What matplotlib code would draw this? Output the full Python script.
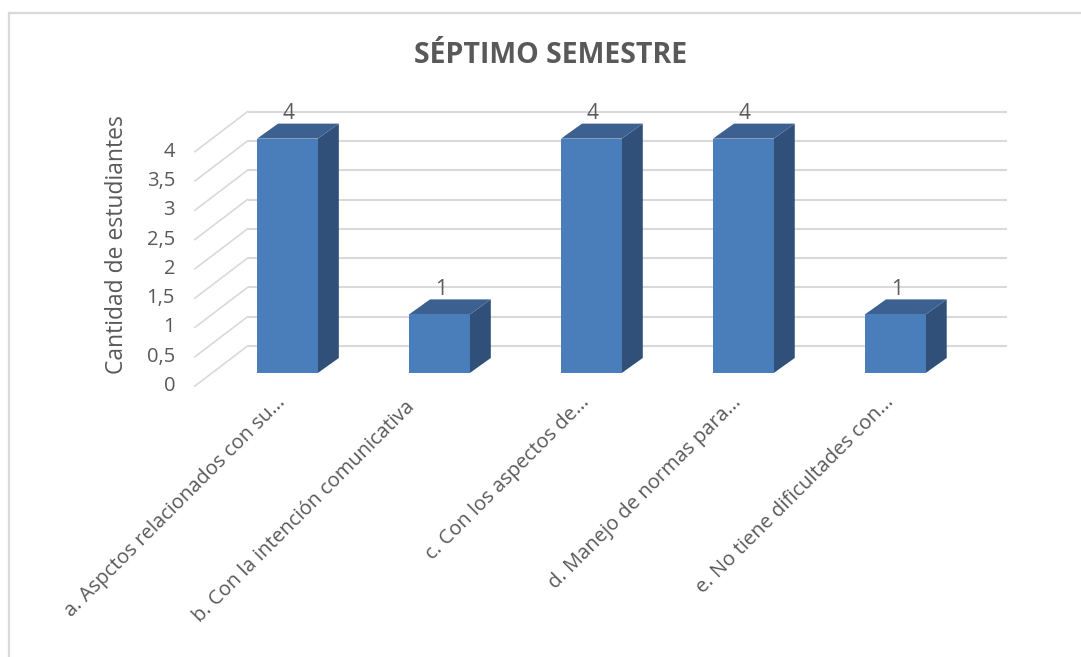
import matplotlib
matplotlib.use("Agg")
import matplotlib.pyplot as plt
from matplotlib.patches import Polygon
from matplotlib.lines import Line2D

# Data
categorias = [
    "a. Aspctos relacionados con su...",
    "b. Con la intención comunicativa",
    "c. Con los aspectos de...",
    "d. Manejo de normas para...",
    "e. No tiene dificultades con...",
]
valores = [4, 1, 4, 4, 1]
ticks = [0, 0.5, 1, 1.5, 2, 2.5, 3, 3.5, 4]
tick_labels = ["0", "0,5", "1", "1,5", "2", "2,5", "3", "3,5", "4"]

plt.rcParams["font.family"] = ["Open Sans", "DejaVu Sans"]
gris = "#595959"
grid_c = "#d9d9d9"
c_front = "#4a7ebb"
c_top = "#3c6191"
c_side = "#30507a"

fig = plt.figure(figsize=(10.81, 6.57), dpi=100)
ax = fig.add_axes([0.12535, 0.3877, 0.8435, 0.4905])
ax.set_xlim(-1, 5)
ax.set_ylim(-0.5, 5)
ax.axis("off")

# 3D offsets (data units)
w = 0.4
bdx, bdy = 0.138, 0.256          # depth of each bar
back_dx, back_dy = 0.237, 0.46    # back wall relative to bar front
front_dx, front_dy = -0.112, -0.222  # front edge of the floor
right_end = 4.733

# gridlines: back wall + diagonal on the side wall
for t in ticks:
    ax.plot([back_dx - 0.5, right_end], [t + back_dy, t + back_dy],
            color=grid_c, lw=1.5, zorder=1, solid_capstyle="butt")
    ax.plot([front_dx - 0.497, back_dx - 0.5], [t + front_dy, t + back_dy],
            color=grid_c, lw=1.2, zorder=1)

for x, v in zip(range(len(valores)), valores):
    ax.add_patch(Polygon([(x + w / 2, 0), (x + w / 2 + bdx, bdy),
                          (x + w / 2 + bdx, v + bdy), (x + w / 2, v)],
                         closed=True, facecolor=c_side, edgecolor="none", zorder=2))
    ax.add_patch(Polygon([(x - w / 2, v), (x + w / 2, v),
                          (x + w / 2 + bdx, v + bdy), (x - w / 2 + bdx, v + bdy)],
                         closed=True, facecolor=c_top, edgecolor="none", zorder=2))
ax.bar(range(len(valores)), valores, width=w, color=c_front, zorder=3)

for x, v in zip(range(len(valores)), valores):
    ax.text(x + 0.01, v + 0.25, str(v), ha="center", va="bottom",
            fontsize=15, color=gris, zorder=4)

# value axis labels
for t, lab in zip(ticks, tick_labels):
    ax.text(-0.74, t + front_dy, lab, ha="right", va="center",
            fontsize=14.5, color=gris)

# category labels
offs = [(0, 0), (-0.15, -0.08), (0, 0), (0, 0), (0, 0)]
for x, lab, (ox, oy) in zip(range(len(categorias)), categorias, offs):
    ax.text(x - 0.03 + ox, -0.45 + oy, lab, rotation=45, rotation_mode="anchor",
            ha="right", va="center", fontsize=14.5, color=gris)

fig.text(0.108, 0.627, "Cantidad de estudiantes", rotation=90,
         ha="center", va="center", fontsize=16.5, color=gris)
fig.text(0.5095, 0.915, "SÉPTIMO SEMESTRE", ha="center", va="center",
         fontsize=20.5, fontweight="bold", color=gris)

# chart frame (top and left edges)
fig.add_artist(Line2D([0.0083, 1.0], [1 - 13 / 657, 1 - 13 / 657],
                      color=grid_c, lw=1.6, transform=fig.transFigure))
fig.add_artist(Line2D([9 / 1081, 9 / 1081], [0, 1 - 13 / 657],
                      color=grid_c, lw=1.6, transform=fig.transFigure))

fig.savefig("out.png", dpi=100, facecolor="white")
